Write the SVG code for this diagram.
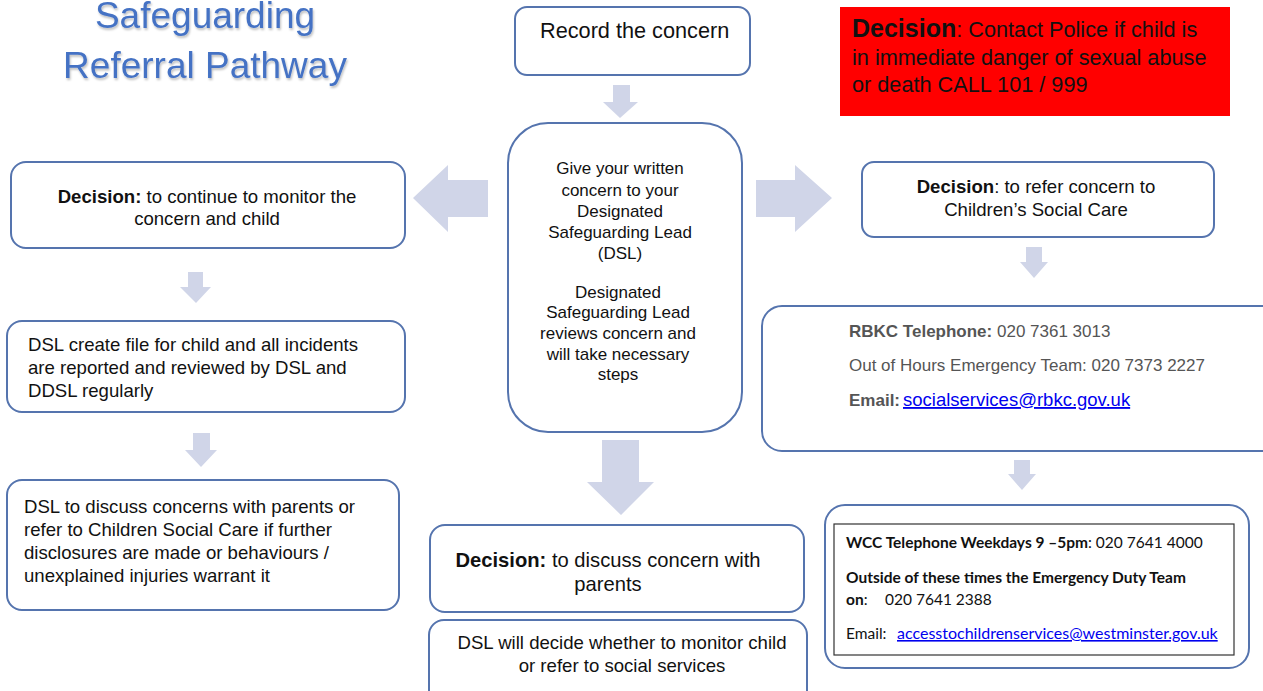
<svg xmlns="http://www.w3.org/2000/svg" width="1263" height="691" viewBox="0 0 1263 691">
<style>
.box{fill:#fff;stroke:#5574AE;stroke-width:2}
.arr{fill:#D0D5E8}
.t{font-family:"Liberation Sans",Arial,sans-serif;fill:#111}
.c{text-anchor:middle}
.b{font-weight:bold}
.g{fill:#555}
.cal{font-family:Lato,"Liberation Sans",sans-serif;fill:#111;font-size:15.5px}
.link{fill:#0000EE;text-decoration:underline}
</style>
<defs>
<filter id="sh" x="-5%" y="-5%" width="110%" height="120%"><feDropShadow dx="1" dy="2" stdDeviation="1" flood-color="#000" flood-opacity="0.25"/></filter>
</defs>
<rect width="1263" height="691" fill="#fff"/>
<g id="title" filter="url(#sh)">
<text class="c" x="205" y="28" font-family="Liberation Sans,Arial,sans-serif" font-size="37" fill="#4472C4">Safeguarding</text>
<text class="c" x="205" y="78" font-family="Liberation Sans,Arial,sans-serif" font-size="37" fill="#4472C4">Referral Pathway</text>
</g>
<g id="connectors">
<polygon class="arr" points="613,85 630,85 630,102 638,102 620,118 603,102 613,102"/>
<polygon class="arr" points="488,180 448,180 448,165 413,198 448,232 448,217 488,217"/>
<polygon class="arr" points="756,180 795,180 795,165 832,198 795,232 795,217 756,217"/>
<polygon class="arr" points="1026,247 1042,247 1042,262 1048,262 1034,278 1020,262 1026,262"/>
<polygon class="arr" points="1014,460 1030,460 1030,474 1036,474 1022,490 1008,474 1014,474"/>
<polygon class="arr" points="188,272 203,272 203,287 211,287 196,303 180,287 188,287"/>
<polygon class="arr" points="193,433 210,433 210,450 217,450 201,467 185,450 193,450"/>
<polygon class="arr" points="602,440 639,440 639,482 654,482 621,515 587,482 602,482"/>
</g>
<g id="record">
<rect class="box" x="515" y="7" width="235" height="68" rx="12"/>
<text class="t" x="540" y="38" font-size="21.7">Record the concern</text>
</g>
<g id="police">
<rect x="840" y="7" width="390" height="109" fill="#FF0000"/>
<text class="t" x="852" y="37" font-size="21.7"><tspan class="b" font-size="25">Decision</tspan>: Contact Police if child is</text>
<text class="t" x="852" y="65" font-size="21.7">in immediate danger of sexual abuse</text>
<text class="t" x="852" y="92" font-size="21.7">or death CALL 101 / 999</text>
</g>
<g id="monitor">
<rect class="box" x="11" y="162" width="394" height="86" rx="15"/>
<text class="t c" x="207" y="203" font-size="18.6"><tspan class="b">Decision:</tspan> to continue to monitor the</text>
<text class="t c" x="207" y="225" font-size="18.6">concern and child</text>
</g>
<g id="dsl">
<rect class="box" x="508" y="123" width="234" height="309" rx="40"/>
<g class="t c" font-size="17">
<text x="620" y="174">Give your written</text>
<text x="620" y="196">concern to your</text>
<text x="620" y="217">Designated</text>
<text x="620" y="238">Safeguarding Lead</text>
<text x="620" y="259">(DSL)</text>
<text x="618" y="298">Designated</text>
<text x="618" y="318">Safeguarding Lead</text>
<text x="618" y="339">reviews concern and</text>
<text x="618" y="360">will take necessary</text>
<text x="618" y="380">steps</text>
</g>
</g>
<g id="refer">
<rect class="box" x="862" y="162" width="352" height="75" rx="12"/>
<text class="t c" x="1036" y="193" font-size="18.6"><tspan class="b">Decision</tspan>: to refer concern to</text>
<text class="t c" x="1036" y="216" font-size="18.6">Children’s Social Care</text>
</g>
<g id="rbkc">
<rect class="box" x="762" y="306" width="520" height="145" rx="20"/>
<text class="t g" x="849" y="337" font-size="17"><tspan class="b">RBKC Telephone:</tspan> 020 7361 3013</text>
<text class="t g" x="849" y="371" font-size="17">Out of Hours Emergency Team: 020 7373 2227</text>
<text class="t g" x="849" y="406" font-size="17"><tspan class="b">Email:</tspan><tspan class="link" x="903" font-size="18.5">socialservices@rbkc.gov.uk</tspan></text>
</g>
<g id="wcc">
<rect class="box" x="825" y="505" width="424" height="163" rx="20"/>
<rect x="834" y="524" width="400" height="131" fill="none" stroke="#333" stroke-width="1.2"/>
<text class="cal" x="846" y="548"><tspan font-weight="bold">WCC Telephone Weekdays 9 –5pm</tspan>: 020 7641 4000</text>
<text class="cal" x="846" y="583" font-weight="bold">Outside of these times the Emergency Duty Team</text>
<text class="cal" x="846" y="605"><tspan font-weight="bold">on</tspan>:<tspan x="885">020 7641 2388</tspan></text>
<text class="cal" x="846" y="639">Email:<tspan class="link" x="897" font-size="16">accesstochildrenservices@westminster.gov.uk</tspan></text>
</g>
<g id="create">
<rect class="box" x="7" y="321" width="398" height="91" rx="15"/>
<text class="t" x="28" y="351" font-size="18.6">DSL create file for child and all incidents</text>
<text class="t" x="28" y="374" font-size="18.6">are reported and reviewed by DSL and</text>
<text class="t" x="28" y="397" font-size="18.6">DDSL regularly</text>
</g>
<g id="discuss-left">
<rect class="box" x="7" y="480" width="392" height="130" rx="15"/>
<text class="t" x="24" y="513" font-size="18.6">DSL to discuss concerns with parents or</text>
<text class="t" x="24" y="536" font-size="18.6">refer to Children Social Care if further</text>
<text class="t" x="24" y="559" font-size="18.6">disclosures are made or behaviours /</text>
<text class="t" x="24" y="582" font-size="18.6">unexplained injuries warrant it</text>
</g>
<g id="parents">
<rect class="box" x="430" y="525" width="374" height="87" rx="15"/>
<text class="t c" x="608" y="567" font-size="20.2"><tspan class="b">Decision:</tspan> to discuss concern with</text>
<text class="t c" x="608" y="591" font-size="20.2">parents</text>
</g>
<g id="decide">
<rect class="box" x="429" y="620" width="378" height="90" rx="15"/>
<text class="t c" x="622" y="649" font-size="18.6">DSL will decide whether to monitor child</text>
<text class="t c" x="622" y="672" font-size="18.6">or refer to social services</text>
</g>
</svg>
